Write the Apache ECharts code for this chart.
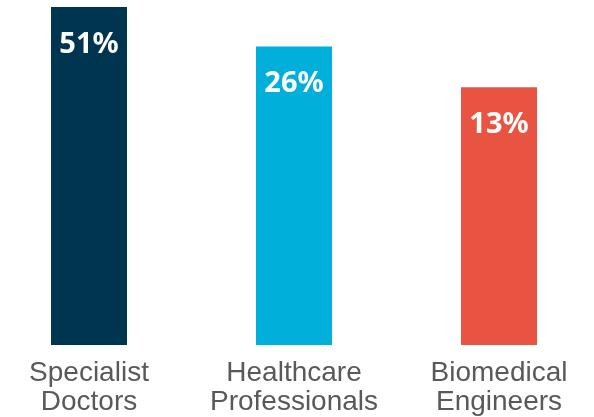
<!DOCTYPE html>
<html>
<head>
<meta charset="utf-8">
<script src="https://cdn.jsdelivr.net/npm/echarts@6/dist/echarts.min.js"></script>
<style>html,body{margin:0;padding:0;background:#fff}#c{width:594px;height:417px}</style>
</head>
<body>
<div id="c"></div>
<script>
var categories = ["Specialist\nDoctors", "Healthcare\nProfessionals", "Biomedical\nEngineers"];
var values = [51, 26, 13];
var colors = ["#00354F", "#00B0DB", "#E85441"];

var yMin = 0.16, yMax = 51;

var chart = echarts.init(document.getElementById('c'), null, {renderer: 'canvas'});
chart.setOption({
  animation: false,
  grid: {left: 89, right: 95, top: 7, bottom: 70, containLabel: false},
  xAxis: {
    type: 'category',
    data: categories,
    boundaryGap: false,
    axisLine: {show: false},
    axisTick: {show: false},
    axisLabel: {
      interval: 0,
      margin: 14,
      color: '#595959',
      fontFamily: 'Liberation Sans, Arial, sans-serif',
      fontSize: 28,
      lineHeight: 29
    }
  },
  yAxis: {
    type: 'log',
    logBase: 10,
    min: yMin,
    max: yMax,
    show: false,
    splitLine: {show: false}
  },
  series: [{
    type: 'custom',
    clip: false,
    data: values.map(function (v, i) { return [i, v]; }),
    renderItem: function (params, api) {
      var idx = api.value(0);
      var v = api.value(1);
      var top = api.coord([idx, v]);
      var base = api.coord([idx, yMin]);
      var w = 76;
      return {
        type: 'rect',
        shape: {x: top[0] - w / 2, y: top[1], width: w, height: base[1] - top[1]},
        style: {fill: colors[params.dataIndex]},
        textContent: {
          style: {
            text: v + '%',
            fill: '#ffffff',
            font: 'bold 29px "Noto Sans", sans-serif'
          }
        },
        textConfig: {position: 'insideTop', distance: 23}
      };
    }
  }]
});
</script>
</body>
</html>
